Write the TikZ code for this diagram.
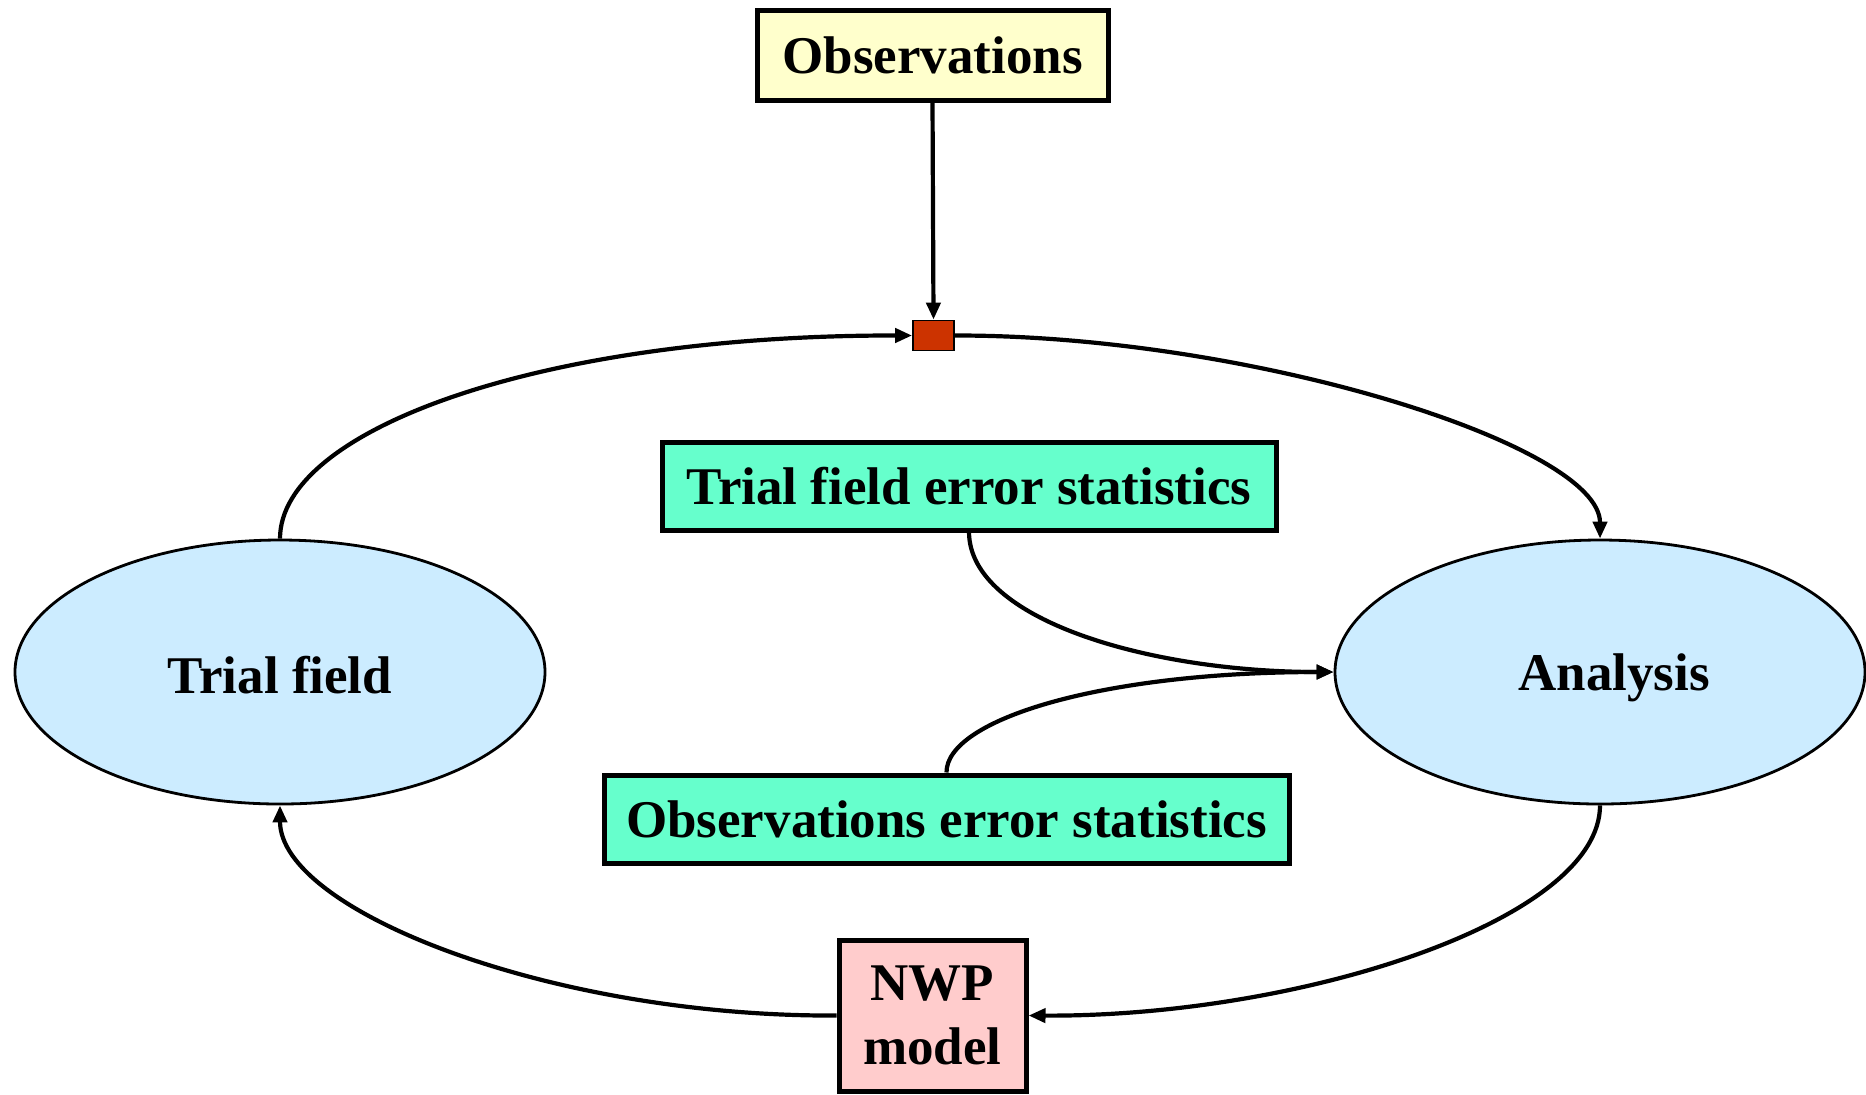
\documentclass[tikz,border=0pt]{standalone}
\usepackage{fontspec}
\setmainfont{Liberation Serif}
\usetikzlibrary{arrows.meta,shapes.geometric}

\definecolor{obsfill}{HTML}{FFFFCC}
\definecolor{mixfill}{HTML}{CC3300}
\definecolor{fieldfill}{HTML}{CCECFF}
\definecolor{statfill}{HTML}{66FFCC}
\definecolor{modelfill}{HTML}{FFCCCC}

% lower a label without changing the box size the node sees
\newcommand{\dropby}[2]{\raisebox{-#1}[\height][\depth]{#2}}

\tikzset{
  lbl/.style={font=\fontsize{26.5}{32}\selectfont\bfseries, text=black},
  boxnode/.style={lbl, draw=black, line width=2.5pt, rectangle, inner sep=0pt, align=center},
  fieldnode/.style={lbl, draw=black, line width=1.4pt, ellipse, fill=fieldfill,
                    minimum width=265pt, minimum height=132pt, inner sep=0pt},
  flow/.style={draw=black, line width=2.1pt,
               -{Triangle[length=8.5pt,width=7pt]}},
}

\begin{document}
\begin{tikzpicture}[x=0.5pt, y=-0.5pt]
  \useasboundingbox (0,0) rectangle (1866,1094);

  % boxes and fields
  \node[boxnode, fill=obsfill, minimum width=175.5pt, minimum height=45pt]
    (obs) at (932.5,55) {Observations};
  \node[draw=black, line width=0.9pt, fill=mixfill, rectangle, inner sep=0pt,
        minimum width=20.5pt, minimum height=15pt]
    (mix) at (933.5,335.5) {};
  \node[fieldnode] (trial) at (280,672) {\dropby{1.5pt}{Trial field}};
  \node[fieldnode] (ana) at (1600,672) {\hspace*{14pt}\dropby{3pt}{Analysis}};
  \node[boxnode, fill=statfill, minimum width=307pt, minimum height=44pt]
    (tfes) at (969,486) {Trial field error statistics};
  \node[boxnode, fill=statfill, minimum width=342.5pt, minimum height=44pt]
    (oes) at (946.5,819) {Observations error statistics};
  \node[boxnode, fill=modelfill, minimum width=93.5pt, minimum height=75.5pt]
    (nwp) at (932.5,1015.5) {NWP\\model};

  % observations feed the update step
  \draw[flow] (obs.south) -- (mix.north);

  % assimilation cycle
  \draw[flow] (trial.north) .. controls (280,430) and (540,335) .. (mix.west);
  \draw[flow] (mix.east) .. controls (1250,335) and (1600,445) .. (ana.north);
  \draw[flow] (ana.south) .. controls (1600,920) and (1300,1017) .. (nwp.east);
  \draw[flow] (nwp.west) .. controls (550,1017) and (280,910) .. (trial.south);

  % error statistics entering the analysis
  \draw[flow] (tfes.south) .. controls (970,620) and (1150,672) .. (ana.west);
  \draw[flow] (oes.north) .. controls (946,720) and (1100,672) .. (ana.west);
\end{tikzpicture}
\end{document}
